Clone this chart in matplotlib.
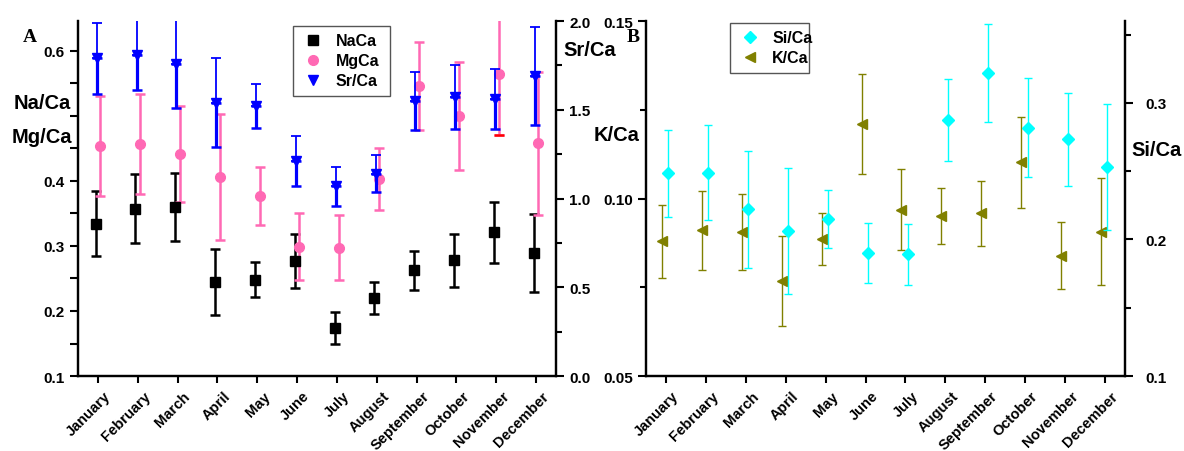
import numpy as np
import matplotlib.pyplot as plt
from matplotlib.ticker import FixedLocator, FormatStrFormatter
from matplotlib.transforms import ScaledTranslation

# ---- data ----
months = ["January", "February", "March", "April", "May", "June", "July",
          "August", "September", "October", "November", "December"]

# panel A (left axis)
na_ca = [0.334, 0.357, 0.360, 0.245, 0.248, 0.277, 0.174, 0.220, 0.263, 0.278, 0.321, 0.289]
na_err = [0.050, 0.053, 0.053, 0.051, 0.027, 0.041, 0.024, 0.024, 0.030, 0.041, 0.047, 0.060]
mg_ca = [0.454, 0.457, 0.442, 0.406, 0.377, 0.299, 0.297, 0.403, 0.546, 0.500, 0.565, 0.458]
mg_err = [0.077, 0.077, 0.074, 0.097, 0.045, 0.051, 0.050, 0.048, 0.068, 0.083, 0.094, 0.110]
# panel A (right axis)
sr_ca = [1.79, 1.81, 1.76, 1.54, 1.52, 1.21, 1.07, 1.14, 1.55, 1.57, 1.56, 1.69]
sr_err = [0.20, 0.20, 0.25, 0.25, 0.125, 0.14, 0.11, 0.105, 0.165, 0.18, 0.17, 0.275]

# panel B (left axis)
k_ca = [0.0879, 0.0910, 0.0907, 0.0768, 0.0887, 0.1209, 0.0969, 0.0952, 0.0958, 0.1102, 0.0839, 0.0907]
k_err = [0.0103, 0.0110, 0.0107, 0.0127, 0.0073, 0.0141, 0.0113, 0.0079, 0.0092, 0.0128, 0.0095, 0.0151]
# panel B (right axis)
si_ca = [0.2485, 0.249, 0.222, 0.206, 0.215, 0.190, 0.189, 0.2875, 0.322, 0.282, 0.2735, 0.253]
si_err = [0.032, 0.035, 0.043, 0.046, 0.021, 0.022, 0.022, 0.030, 0.036, 0.036, 0.034, 0.046]

# ---- style ----
plt.rcParams.update({
    "font.family": ["Liberation Sans", "DejaVu Sans"],
    "font.weight": "bold",
    "font.size": 11,
    "axes.linewidth": 1.6,
    "xtick.major.width": 1.5,
    "ytick.major.width": 1.5,
    "ytick.minor.width": 1.5,
    "xtick.major.size": 5,
    "ytick.major.size": 6,
    "ytick.minor.size": 4,
})

BLACK = "#000000"
PINK = "#ff69b4"
BLUE = "#0000ff"
CYAN = "#00ffff"
OLIVE = "#808000"

fig = plt.figure(figsize=(11.84, 4.52), dpi=100)
axA = fig.add_axes([0.0659, 0.1659, 0.4037, 0.7854])
axA2 = axA.twinx()
axB = fig.add_axes([0.5456, 0.1659, 0.4046, 0.7854])
axB2 = axB.twinx()

x = np.arange(len(months))
shift = ScaledTranslation(4 / 72, 0, fig.dpi_scale_trans)


def setup_x(ax):
    ax.set_xlim(-0.5, 11.5)
    ax.set_xticks(x)
    ax.set_xticklabels(months, rotation=45, ha="right", rotation_mode="anchor",
                       fontsize=10.5, fontweight="bold")
    ax.tick_params(axis="x", pad=4)
    for lab in ax.get_xticklabels():
        lab.set_transform(lab.get_transform() + shift)
    ax.spines["top"].set_visible(False)


leg_kw = dict(loc="upper left", borderaxespad=0, fancybox=False, mode="expand",
              edgecolor="#555555", framealpha=1, handletextpad=0.6,
              handlelength=1.6, labelspacing=0.32, borderpad=0.45,
              prop={"weight": "bold", "size": 11.5})

# ---- panel A ----
eA = axA.errorbar(x - 0.06, na_ca, yerr=na_err, fmt="s", color=BLACK, ms=6.5,
                  elinewidth=1.8, capsize=3.5, capthick=1.8)
eM = axA.errorbar(x + 0.06, mg_ca, yerr=mg_err, fmt="o", color=PINK, ms=7,
                  elinewidth=1.8, capsize=3.5, capthick=1.8)
# odd red cap at the lower end of the November Mg/Ca bar
axA.plot(x[10] + 0.06, mg_ca[10] - mg_err[10], marker="_", color="red", ms=7, mew=1.8)

sr = np.array(sr_ca)
se = np.array(sr_err)
axA2.errorbar(x - 0.03, sr, yerr=[se, np.zeros_like(se)], fmt="none", ecolor=BLUE,
              elinewidth=2.3, capsize=3.5, capthick=1.8)
axA2.errorbar(x - 0.03, sr, yerr=[np.zeros_like(se), se], fmt="none", ecolor=BLUE,
              elinewidth=1.3, capsize=3.5, capthick=1.3)
eS, = axA2.plot(x - 0.03, sr, "v", color=BLUE, ms=7.5, ls="none")

axA.set_ylim(0.1, 0.646)
axA.yaxis.set_major_locator(FixedLocator(np.arange(0.1, 0.646, 0.05)))
axA.set_yticklabels(["0.1", "", "0.2", "", "0.3", "", "0.4", "", "", "", "0.6"])
axA2.set_ylim(0.0, 2.0)
axA2.yaxis.set_major_locator(FixedLocator([0.0, 0.5, 1.0, 1.5, 2.0]))
axA2.yaxis.set_minor_locator(FixedLocator([0.25, 0.75, 1.25, 1.75]))
axA2.yaxis.set_major_formatter(FormatStrFormatter("%.1f"))
setup_x(axA)
axA2.spines["top"].set_visible(False)
for lab in axA.get_yticklabels() + axA2.get_yticklabels():
    lab.set_fontweight("bold")

axA2.legend([eA.lines[0], eM.lines[0], eS], ["NaCa", "MgCa", "Sr/Ca"],
            bbox_to_anchor=(0.45, 0.789, 0.203, 0.197), **leg_kw)

# ---- panel B ----
eK = axB.errorbar(x - 0.1, k_ca, yerr=k_err, fmt="<", color=OLIVE, ms=7.5,
                  elinewidth=1.0, capsize=3, capthick=1.0)
eSi = axB2.errorbar(x + 0.06, si_ca, yerr=si_err, fmt="D", color=CYAN, ms=6.5,
                    elinewidth=1.0, capsize=3, capthick=1.0)

axB.set_ylim(0.05, 0.15)
axB.yaxis.set_major_locator(FixedLocator([0.05, 0.10, 0.15]))
axB.yaxis.set_minor_locator(FixedLocator([0.075, 0.125]))
axB.yaxis.set_major_formatter(FormatStrFormatter("%.2f"))
axB2.set_ylim(0.1, 0.36)
axB2.yaxis.set_major_locator(FixedLocator([0.1, 0.2, 0.3]))
axB2.yaxis.set_minor_locator(FixedLocator([0.15, 0.25, 0.35]))
axB2.yaxis.set_major_formatter(FormatStrFormatter("%.1f"))
axB2.tick_params(axis="y", which="major", pad=9)
setup_x(axB)
axB2.spines["top"].set_visible(False)
for lab in axB.get_yticklabels() + axB2.get_yticklabels():
    lab.set_fontweight("bold")

axB2.legend([eSi.lines[0], eK.lines[0]], ["Si/Ca", "K/Ca"],
            bbox_to_anchor=(0.175, 0.85, 0.165, 0.144), **leg_kw)

# ---- axis titles placed as in the reference ----
lab_kw = dict(fontsize=14.5, fontweight="bold", ha="center", va="center")
fig.text(0.0355, 0.772, "Na/Ca", **lab_kw)
fig.text(0.0355, 0.695, "Mg/Ca", **lab_kw)
fig.text(0.498, 0.889, "Sr/Ca", **lab_kw)
fig.text(0.521, 0.701, "K/Ca", **lab_kw)
fig.text(0.977, 0.668, "Si/Ca", **lab_kw)
fig.text(0.025, 0.916, "A", fontsize=14, fontweight="bold", family="Liberation Serif",
         ha="center", va="center")
fig.text(0.535, 0.916, "B", fontsize=14, fontweight="bold", family="Liberation Serif",
         ha="center", va="center")

fig.savefig("out.png", dpi=100)
